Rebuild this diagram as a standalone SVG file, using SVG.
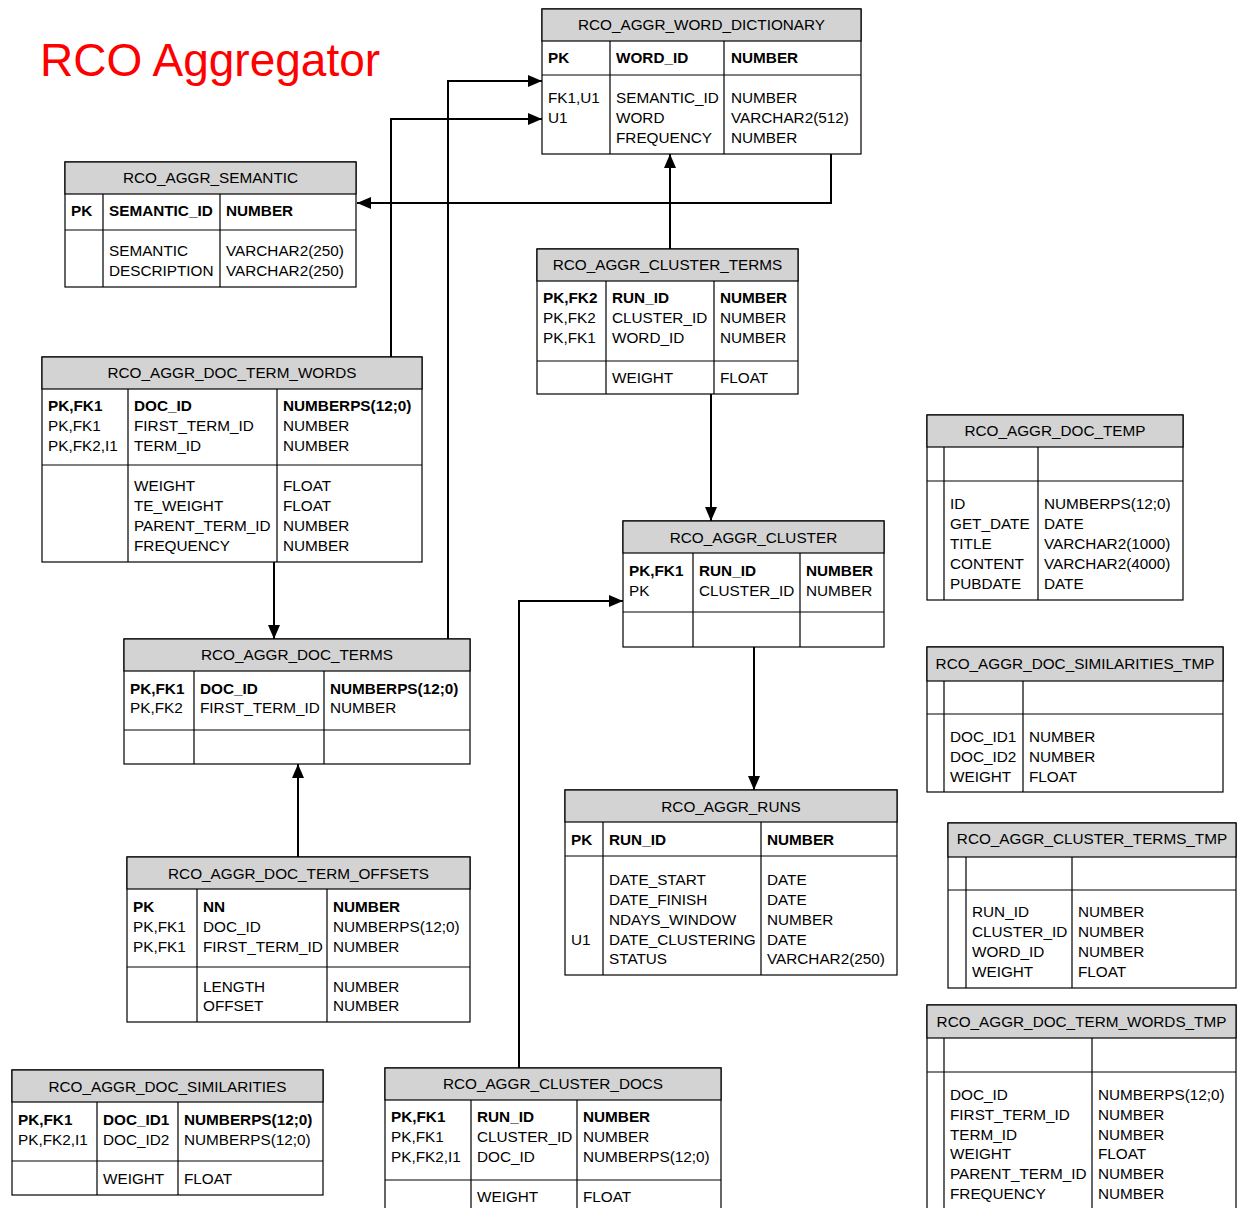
<svg xmlns="http://www.w3.org/2000/svg" width="1238" height="1208" viewBox="0 0 1238 1208">
<style>
text{font-family:"Liberation Sans",Arial,sans-serif;font-size:15.3px;fill:#000}
.b{font-weight:bold}
.h{text-anchor:middle}
.box{fill:#fff;stroke:#000;stroke-width:1.2}
.hd{fill:#d3d3d3;stroke:#000;stroke-width:1.2}
.ln{stroke:#000;stroke-width:1.2;fill:none}
.c{stroke:#000;stroke-width:2;fill:none;marker-end:url(#arr)}
.title{font-size:46px;fill:#f00}
</style>
<defs>
<marker id="arr" viewBox="0 0 14 12" refX="14" refY="6" markerWidth="14" markerHeight="12" markerUnits="userSpaceOnUse" orient="auto">
<path d="M0,0 L14,6 L0,12 z" fill="#000"/>
</marker>
</defs>
<rect width="1238" height="1208" fill="#fff"/>
<text id="title" class="title" x="40" y="76">RCO Aggregator</text>

<g id="word_dictionary">
<rect class="box" x="542" y="9" width="319" height="145"/>
<rect class="hd" x="542" y="9" width="319" height="32"/>
<path class="ln" d="M542,75H861M610,41V154M724,41V154"/>
<text class="h" x="701.5" y="29.5">RCO_AGGR_WORD_DICTIONARY</text>
<text class="b" x="548" y="63">PK</text><text class="b" x="616" y="63">WORD_ID</text><text class="b" x="731" y="63">NUMBER</text>
<text x="548" y="102.5">FK1,U1<tspan x="548" dy="20">U1</tspan></text>
<text x="616" y="102.5">SEMANTIC_ID<tspan x="616" dy="20">WORD</tspan><tspan x="616" dy="20">FREQUENCY</tspan></text>
<text x="731" y="102.5">NUMBER<tspan x="731" dy="20">VARCHAR2(512)</tspan><tspan x="731" dy="20">NUMBER</tspan></text>
</g>

<g id="semantic">
<rect class="box" x="65" y="162" width="291" height="125"/>
<rect class="hd" x="65" y="162" width="291" height="32"/>
<path class="ln" d="M65,230H356M103,194V287M220,194V287"/>
<text class="h" x="210.5" y="182.5">RCO_AGGR_SEMANTIC</text>
<text class="b" x="71" y="215.5">PK</text><text class="b" x="109" y="215.5">SEMANTIC_ID</text><text class="b" x="226" y="215.5">NUMBER</text>
<text x="109" y="255.5">SEMANTIC<tspan x="109" dy="20">DESCRIPTION</tspan></text>
<text x="226" y="255.5">VARCHAR2(250)<tspan x="226" dy="20">VARCHAR2(250)</tspan></text>
</g>

<g id="cluster_terms">
<rect class="box" x="537" y="249" width="261" height="145"/>
<rect class="hd" x="537" y="249" width="261" height="32"/>
<path class="ln" d="M537,361H798M606,281V394M714,281V394"/>
<text class="h" x="667.5" y="269.5">RCO_AGGR_CLUSTER_TERMS</text>
<text class="b" x="543" y="302.5">PK,FK2</text><text x="543" y="322.5">PK,FK2<tspan x="543" dy="20">PK,FK1</tspan></text>
<text class="b" x="612" y="302.5">RUN_ID</text><text x="612" y="322.5">CLUSTER_ID<tspan x="612" dy="20">WORD_ID</tspan></text>
<text class="b" x="720" y="302.5">NUMBER</text><text x="720" y="322.5">NUMBER<tspan x="720" dy="20">NUMBER</tspan></text>
<text x="612" y="382.5">WEIGHT</text><text x="720" y="382.5">FLOAT</text>
</g>

<g id="doc_term_words">
<rect class="box" x="42" y="357" width="380" height="205"/>
<rect class="hd" x="42" y="357" width="380" height="32"/>
<path class="ln" d="M42,465H422M128,389V562M277,389V562"/>
<text class="h" x="232" y="377.5">RCO_AGGR_DOC_TERM_WORDS</text>
<text class="b" x="48" y="410.5">PK,FK1</text><text x="48" y="430.5">PK,FK1<tspan x="48" dy="20">PK,FK2,I1</tspan></text>
<text class="b" x="134" y="410.5">DOC_ID</text><text x="134" y="430.5">FIRST_TERM_ID<tspan x="134" dy="20">TERM_ID</tspan></text>
<text class="b" x="283" y="410.5">NUMBERPS(12;0)</text><text x="283" y="430.5">NUMBER<tspan x="283" dy="20">NUMBER</tspan></text>
<text x="134" y="490.5">WEIGHT<tspan x="134" dy="20">TE_WEIGHT</tspan><tspan x="134" dy="20">PARENT_TERM_ID</tspan><tspan x="134" dy="20">FREQUENCY</tspan></text>
<text x="283" y="490.5">FLOAT<tspan x="283" dy="20">FLOAT</tspan><tspan x="283" dy="20">NUMBER</tspan><tspan x="283" dy="20">NUMBER</tspan></text>
</g>

<g id="doc_terms">
<rect class="box" x="124" y="639" width="346" height="125"/>
<rect class="hd" x="124" y="639" width="346" height="32"/>
<path class="ln" d="M124,730H470M194,671V764M324,671V764"/>
<text class="h" x="297" y="659.5">RCO_AGGR_DOC_TERMS</text>
<text class="b" x="130" y="693.5">PK,FK1</text><text x="130" y="712.5">PK,FK2</text>
<text class="b" x="200" y="693.5">DOC_ID</text><text x="200" y="712.5">FIRST_TERM_ID</text>
<text class="b" x="330" y="693.5">NUMBERPS(12;0)</text><text x="330" y="712.5">NUMBER</text>
</g>

<g id="doc_term_offsets">
<rect class="box" x="127" y="857" width="343" height="165"/>
<rect class="hd" x="127" y="857" width="343" height="32"/>
<path class="ln" d="M127,967H470M197,889V1022M327,889V1022"/>
<text class="h" x="298.5" y="878.5">RCO_AGGR_DOC_TERM_OFFSETS</text>
<text class="b" x="133" y="911.5">PK</text><text x="133" y="931.5">PK,FK1<tspan x="133" dy="20">PK,FK1</tspan></text>
<text class="b" x="203" y="911.5">NN</text><text x="203" y="931.5">DOC_ID<tspan x="203" dy="20">FIRST_TERM_ID</tspan></text>
<text class="b" x="333" y="911.5">NUMBER</text><text x="333" y="931.5">NUMBERPS(12;0)<tspan x="333" dy="20">NUMBER</tspan></text>
<text x="203" y="991.5">LENGTH<tspan x="203" dy="19">OFFSET</tspan></text>
<text x="333" y="991.5">NUMBER<tspan x="333" dy="19">NUMBER</tspan></text>
</g>

<g id="runs">
<rect class="box" x="565" y="790" width="332" height="185"/>
<rect class="hd" x="565" y="790" width="332" height="32"/>
<path class="ln" d="M565,856H897M603,822V975M761,822V975"/>
<text class="h" x="731" y="811.5">RCO_AGGR_RUNS</text>
<text class="b" x="571" y="844.5">PK</text><text class="b" x="609" y="844.5">RUN_ID</text><text class="b" x="767" y="844.5">NUMBER</text>
<text x="571" y="944.5">U1</text>
<text x="609" y="884.5">DATE_START<tspan x="609" dy="20">DATE_FINISH</tspan><tspan x="609" dy="20">NDAYS_WINDOW</tspan><tspan x="609" dy="20">DATE_CLUSTERING</tspan><tspan x="609" dy="19">STATUS</tspan></text>
<text x="767" y="884.5">DATE<tspan x="767" dy="20">DATE</tspan><tspan x="767" dy="20">NUMBER</tspan><tspan x="767" dy="20">DATE</tspan><tspan x="767" dy="19">VARCHAR2(250)</tspan></text>
</g>

<g id="cluster">
<rect class="box" x="623" y="521" width="261" height="126"/>
<rect class="hd" x="623" y="521" width="261" height="32"/>
<path class="ln" d="M623,612H884M693,553V647M800,553V647"/>
<text class="h" x="753.5" y="542.5">RCO_AGGR_CLUSTER</text>
<text class="b" x="629" y="575.5">PK,FK1</text><text x="629" y="595.5">PK</text>
<text class="b" x="699" y="575.5">RUN_ID</text><text x="699" y="595.5">CLUSTER_ID</text>
<text class="b" x="806" y="575.5">NUMBER</text><text x="806" y="595.5">NUMBER</text>
</g>

<g id="doc_temp">
<rect class="box" x="927" y="415" width="256" height="185"/>
<rect class="hd" x="927" y="415" width="256" height="32"/>
<path class="ln" d="M927,481H1183M944,447V600M1038,447V600"/>
<text class="h" x="1055" y="435.5">RCO_AGGR_DOC_TEMP</text>
<text x="950" y="508.5">ID<tspan x="950" dy="20">GET_DATE</tspan><tspan x="950" dy="20">TITLE</tspan><tspan x="950" dy="20">CONTENT</tspan><tspan x="950" dy="20">PUBDATE</tspan></text>
<text x="1044" y="508.5">NUMBERPS(12;0)<tspan x="1044" dy="20">DATE</tspan><tspan x="1044" dy="20">VARCHAR2(1000)</tspan><tspan x="1044" dy="20">VARCHAR2(4000)</tspan><tspan x="1044" dy="20">DATE</tspan></text>
</g>

<g id="doc_similarities_tmp">
<rect class="box" x="927" y="647" width="296" height="145"/>
<rect class="hd" x="927" y="647" width="296" height="34"/>
<path class="ln" d="M927,714H1223M944,681V792M1023,681V792"/>
<text class="h" x="1075" y="668.5">RCO_AGGR_DOC_SIMILARITIES_TMP</text>
<text x="950" y="741.5">DOC_ID1<tspan x="950" dy="20">DOC_ID2</tspan><tspan x="950" dy="20">WEIGHT</tspan></text>
<text x="1029" y="741.5">NUMBER<tspan x="1029" dy="20">NUMBER</tspan><tspan x="1029" dy="20">FLOAT</tspan></text>
</g>

<g id="cluster_terms_tmp">
<rect class="box" x="948" y="823" width="288" height="165"/>
<rect class="hd" x="948" y="823" width="288" height="34"/>
<path class="ln" d="M948,890H1236M966,857V988M1072,857V988"/>
<text class="h" x="1092" y="843.5">RCO_AGGR_CLUSTER_TERMS_TMP</text>
<text x="972" y="916.5">RUN_ID<tspan x="972" dy="20">CLUSTER_ID</tspan><tspan x="972" dy="20">WORD_ID</tspan><tspan x="972" dy="20">WEIGHT</tspan></text>
<text x="1078" y="916.5">NUMBER<tspan x="1078" dy="20">NUMBER</tspan><tspan x="1078" dy="20">NUMBER</tspan><tspan x="1078" dy="20">FLOAT</tspan></text>
</g>

<g id="doc_term_words_tmp">
<rect class="box" x="927" y="1005" width="309" height="215"/>
<rect class="hd" x="927" y="1005" width="309" height="33"/>
<path class="ln" d="M927,1072H1236M944,1038V1220M1092,1038V1220"/>
<text class="h" x="1081.5" y="1026.5">RCO_AGGR_DOC_TERM_WORDS_TMP</text>
<text x="950" y="1099.5">DOC_ID<tspan x="950" dy="20">FIRST_TERM_ID</tspan><tspan x="950" dy="20">TERM_ID</tspan><tspan x="950" dy="19">WEIGHT</tspan><tspan x="950" dy="20">PARENT_TERM_ID</tspan><tspan x="950" dy="20">FREQUENCY</tspan></text>
<text x="1098" y="1099.5">NUMBERPS(12;0)<tspan x="1098" dy="20">NUMBER</tspan><tspan x="1098" dy="20">NUMBER</tspan><tspan x="1098" dy="19">FLOAT</tspan><tspan x="1098" dy="20">NUMBER</tspan><tspan x="1098" dy="20">NUMBER</tspan></text>
</g>

<g id="doc_similarities">
<rect class="box" x="12" y="1070" width="311" height="125"/>
<rect class="hd" x="12" y="1070" width="311" height="32"/>
<path class="ln" d="M12,1161H323M97,1102V1195M178,1102V1195"/>
<text class="h" x="167.5" y="1091.5">RCO_AGGR_DOC_SIMILARITIES</text>
<text class="b" x="18" y="1124.5">PK,FK1</text><text x="18" y="1144.5">PK,FK2,I1</text>
<text class="b" x="103" y="1124.5">DOC_ID1</text><text x="103" y="1144.5">DOC_ID2</text>
<text class="b" x="184" y="1124.5">NUMBERPS(12;0)</text><text x="184" y="1144.5">NUMBERPS(12;0)</text>
<text x="103" y="1183.5">WEIGHT</text><text x="184" y="1183.5">FLOAT</text>
</g>

<g id="cluster_docs">
<rect class="box" x="385" y="1068" width="336" height="150"/>
<rect class="hd" x="385" y="1068" width="336" height="32"/>
<path class="ln" d="M385,1180H721M471,1100V1218M577,1100V1218"/>
<text class="h" x="553" y="1088.5">RCO_AGGR_CLUSTER_DOCS</text>
<text class="b" x="391" y="1121.5">PK,FK1</text><text x="391" y="1141.5">PK,FK1<tspan x="391" dy="20">PK,FK2,I1</tspan></text>
<text class="b" x="477" y="1121.5">RUN_ID</text><text x="477" y="1141.5">CLUSTER_ID<tspan x="477" dy="20">DOC_ID</tspan></text>
<text class="b" x="583" y="1121.5">NUMBER</text><text x="583" y="1141.5">NUMBER<tspan x="583" dy="20">NUMBERPS(12;0)</tspan></text>
<text x="477" y="1201.5">WEIGHT</text><text x="583" y="1201.5">FLOAT</text>
</g>

<g id="connectors">
<path class="c" d="M831,154V203H357"/>
<path class="c" d="M391,357V119H542"/>
<path class="c" d="M448,639V81H542"/>
<path class="c" d="M670,249V154"/>
<path class="c" d="M711,394V521"/>
<path class="c" d="M754,647V790"/>
<path class="c" d="M519,1068V601H623"/>
<path class="c" d="M274,562V639"/>
<path class="c" d="M298,857V764"/>
</g>
</svg>
